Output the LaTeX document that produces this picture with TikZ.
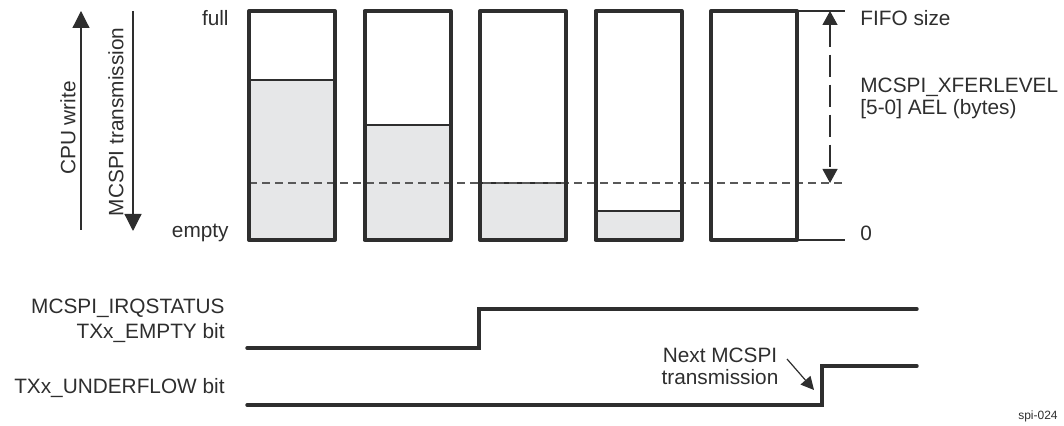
\documentclass[tikz,border=0pt]{standalone}
\usepackage{fontspec}
\setmainfont{Liberation Sans}
\usepackage{xcolor}
\usetikzlibrary{arrows.meta}

\definecolor{ink}{HTML}{2E2E2E}
\definecolor{fifofill}{HTML}{E6E7E8}

\begin{document}
\begin{tikzpicture}[
  x=0.5pt, y=-0.5pt,
  font=\fontsize{10.4}{11}\selectfont, text=ink,
  fifo/.style={draw=ink,line width=2pt,line join=round,inner sep=0pt,outer sep=0pt,
               minimum width=43pt,minimum height=114.5pt},
  level/.style={fill=fifofill,draw=ink,line width=0.6pt},
  thin/.style={draw=ink,line width=0.6pt},
  thres/.style={draw=black!65,line width=0.8pt,dash pattern=on 4pt off 2.5pt},
  sig/.style={draw=ink,line width=1.7pt,line cap=round,line join=miter},
  ar/.style={-{Triangle[length=8.5pt,width=8.5pt]},thin},
  lbl/.style={inner sep=0pt}
]
\useasboundingbox (0,0) rectangle (1064,426);

%% ---- FIFO fill levels, then threshold, then the FIFO frames -------------
\foreach \i/\lvl in {0/80, 1/125, 2/183, 3/211, 4/240}
  \path[level] (249+115.5*\i,\lvl) rectangle (335+115.5*\i,240);

\coordinate (thrL) at (249,183);
\coordinate (thrR) at (845,183);
\draw[thres] (thrL) -- (thrR);

\foreach \i in {0,...,4}
  \node[fifo] (fifo\i) at (292+115.5*\i,125.5) {};

\node[lbl, anchor=east] (full)  at (229,18)  {full};
\node[lbl, anchor=east] (empty) at (229,233) {empty};

%% ---- direction arrows on the left ---------------------------------------
\coordinate (cpuA) at (81,230);
\coordinate (cpuB) at (81,11);
\draw[ar] (cpuA) -- (cpuB);
\node[lbl, rotate=90] (cpu) at (68,128) {CPU write};

\coordinate (txA) at (133,11);
\coordinate (txB) at (133,231);
\draw[ar] (txA) -- (txB);
\node[lbl, rotate=90] (tx) at (116,122) {MCSPI transmission};

%% ---- FIFO size and almost-empty level on the right ----------------------
\coordinate (topR) at (845,11);
\coordinate (botR) at (845,240);
\draw[thin] (fifo4.north east) -- (topR);
\draw[thin] (fifo4.south east) -- (botR);

\coordinate (dimT) at (830,11);
\coordinate (dimB) at (830,183);
\draw[thin, {Triangle[length=7pt,width=7.5pt]}-{Triangle[length=7pt,width=7.5pt]},
      dash pattern=on 11pt off 4pt] (dimT) -- (dimB);

\node[lbl, anchor=west] (fsz)  at (860,18)  {FIFO size};
\node[lbl, anchor=west, align=left] (ael) at (860,98)
  {MCSPI\_XFERLEVEL\\{[5-0] AEL (bytes)}};
\node[lbl, anchor=west] (zero) at (860,233) {0};

%% ---- status bits ---------------------------------------------------------
\node[lbl, anchor=east, align=right, font=\fontsize{10.4}{12.5}\selectfont] (irq)
  at (225,321) {MCSPI\_IRQSTATUS\\TXx\_EMPTY bit};
\node[lbl, anchor=east] (udf) at (225,388) {TXx\_UNDERFLOW bit};

\coordinate (e0) at (247,348);
\coordinate (e1) at (479,348);
\coordinate (e3) at (917,309);
\draw[sig] (e0) -- (e1) |- (e3);

\coordinate (u0) at (247,405);
\coordinate (u1) at (822,405);
\coordinate (u3) at (917,366);
\draw[sig] (u0) -- (u1) |- (u3);

\node[lbl, align=center] (nxt) at (720,366) {Next MCSPI\\transmission};
\coordinate (nxtA) at (787,359);
\coordinate (nxtB) at (814,390);
\draw[thin, -{Triangle[length=6.5pt,width=6.5pt]}] (nxtA) -- (nxtB);

\node[lbl, anchor=east, font=\fontsize{6}{7}\selectfont] (tag) at (1058,416) {spi-024};
\end{tikzpicture}
\end{document}
